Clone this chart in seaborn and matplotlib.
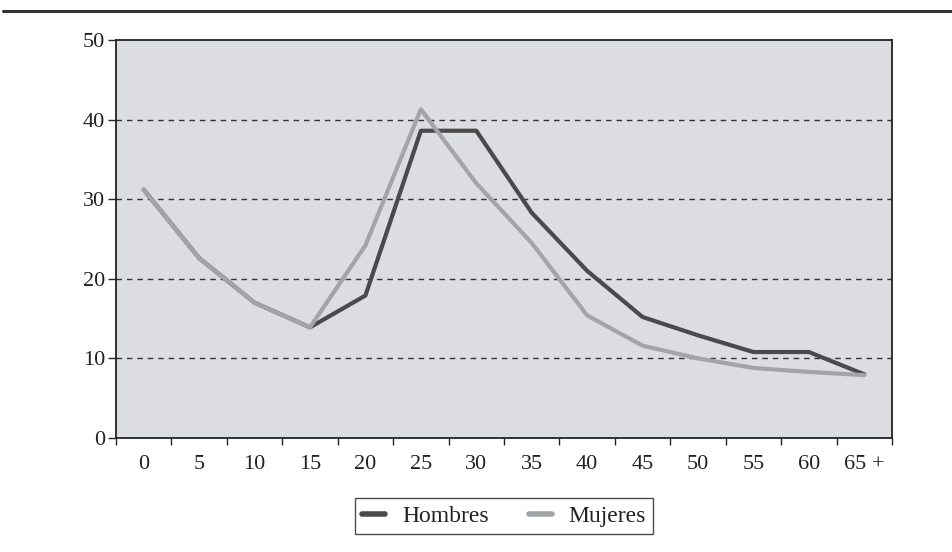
import pandas as pd
import numpy as np
import matplotlib
matplotlib.use("Agg")
import matplotlib.pyplot as plt
from matplotlib.lines import Line2D
import seaborn as sns

# age groups and rates
edades = ['0', '5', '10', '15', '20', '25', '30', '35', '40', '45', '50', '55', '60', '65 +']
hombres = [31.2, 22.6, 17.0, 13.9, 17.9, 38.6, 38.6, 28.3, 21.0, 15.2, 12.9, 10.8, 10.8, 8.0]
mujeres = [31.2, 22.6, 17.0, 13.9, 24.2, 41.3, 32.0, 24.5, 15.4, 11.6, 10.0, 8.8, 8.3, 7.9]

df = pd.DataFrame({
    'pos': list(range(len(edades))) * 2,
    'valor': hombres + mujeres,
    'sexo': ['Hombres'] * len(edades) + ['Mujeres'] * len(edades),
})

sns.set_style("white")
plt.rcParams['font.family'] = ['Liberation Serif', 'DejaVu Serif']

fig = plt.figure(figsize=(9.53, 5.52), dpi=100)
ax = fig.add_axes([116/953, 1 - 438/552, (892 - 116)/953, (438 - 40)/552])
ax.set_facecolor('#dcdde0')

# dashed gridlines
for v in [10, 20, 30, 40]:
    ax.axhline(v, color='#333333', lw=1.0, ls=(0, (4, 3.5)), zorder=1)

# Mujeres drawn last so it sits on top where both lines coincide
sns.lineplot(data=df, x='pos', y='valor', hue='sexo',
             palette={'Hombres': '#4a4a4c', 'Mujeres': '#a3a4a6'},
             hue_order=['Hombres', 'Mujeres'],
             lw=3.0, ax=ax, legend=False, zorder=3)

ax.set_xlim(-0.5, len(edades) - 0.5)
ax.set_ylim(0, 50)
ax.set_yticks([0, 10, 20, 30, 40, 50])
ax.set_xticks(range(len(edades)))
ax.set_xticklabels(edades)
ax.set_xticks(np.arange(-0.5, len(edades)), minor=True)
ax.set_xlabel('')
ax.set_ylabel('')

ax.tick_params(axis='both', which='both', bottom=True, left=True)
ax.tick_params(axis='x', which='major', length=0, pad=12, labelsize=16)
ax.tick_params(axis='x', which='minor', length=5, width=1.0, direction='out', color='#222222')
ax.tick_params(axis='y', length=6, width=1.0, direction='out', pad=2, labelsize=16, color='#222222')
ax.tick_params(axis='both', labelcolor='#222222')

for s in ax.spines.values():
    s.set_color('#222222')
    s.set_linewidth(1.3)

# top rule across the page
fig.add_artist(Line2D([0.003, 1.0], [1 - 10.5/552, 1 - 10.5/552],
                      transform=fig.transFigure, color='#333333', lw=2.2))

handles = [Line2D([0], [0], color='#4a4a4c', lw=4),
           Line2D([0], [0], color='#a3a4a6', lw=4)]
leg = fig.legend(handles, ['Hombres', 'Mujeres'], loc='center',
                 bbox_to_anchor=(504/953, 1 - 516/552), ncol=2,
                 frameon=True, fancybox=False, edgecolor='#222222',
                 fontsize=17, handlelength=1.0, columnspacing=1.7,
                 handletextpad=0.7, borderpad=0.3, borderaxespad=0)
leg.get_frame().set_linewidth(1.0)
for t in leg.get_texts():
    t.set_color('#222222')

fig.savefig('out.png', dpi=100)
